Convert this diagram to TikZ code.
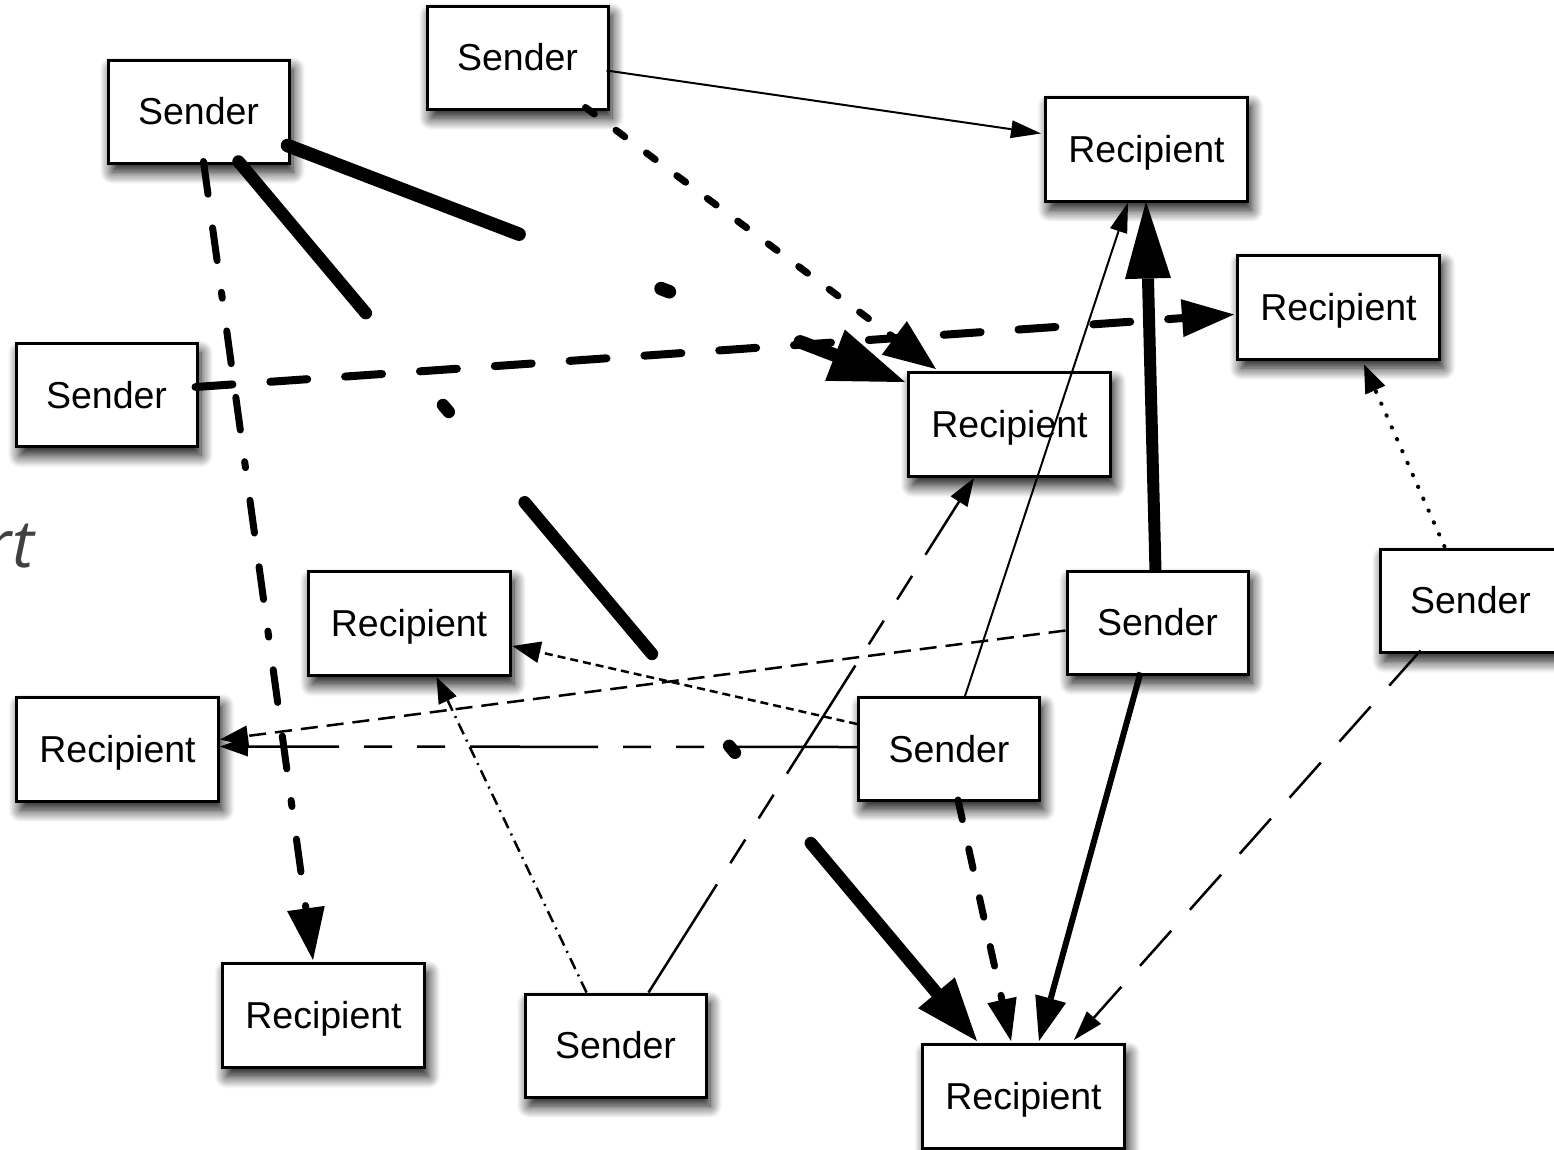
\documentclass[tikz,border=0pt]{standalone}
\usepackage{fontspec}
\setmainfont{Liberation Sans}
\newfontfamily\slidefont{Open Sans}
\usetikzlibrary{arrows.meta,calc,shadows.blur}

\begin{document}
\begin{tikzpicture}[x=1pt,y=-1pt,
  box/.style={draw, line width=3pt, fill=white, inner sep=0pt,
    font=\fontsize{37.5}{45}\selectfont, text height=26.8pt, text depth=0pt,
    blur shadow={shadow xshift=4pt, shadow yshift=-9pt,
      shadow blur radius=12pt, shadow opacity=95, shadow blur steps=12}},
  sender/.style={box, minimum width=181pt, minimum height=103pt},
  recipient/.style={box, minimum width=202pt, minimum height=104pt},
  thinline/.style={line width=2.5pt},
  tip/.style n args={2}{-{Triangle[length=#1pt,width=#2pt,line width=0pt]}},
  longshort/.style={dash pattern=on 128pt off 25pt on 28pt off 25pt on 28pt off 25pt},
]
\useasboundingbox (0,0) rectangle (1554,1149);

% partly visible heading fragment at the left margin
\node[font=\slidefont\itshape\fontsize{66}{70}\selectfont, text=black!75,
      anchor=base east, inner sep=0pt] (frag) at (34,567) {rt};

% boxes
\node[sender]    (sa) at (198.5,111.5)  {Sender};
\node[sender]    (sb) at (517.5,57.5)   {Sender};
\node[recipient] (rc) at (1146.5,149)   {Recipient};
\node[recipient] (rd) at (1338.5,307)   {Recipient};
\node[sender]    (se) at (106.5,395)    {Sender};
\node[recipient] (rf) at (1009.5,424.5) {Recipient};
\node[sender]    (sg) at (1157.5,622.5) {Sender};
\node[sender]    (sh) at (1470.5,600.5) {Sender};
\node[recipient] (ri) at (409,623.5)    {Recipient};
\node[recipient] (rj) at (117.5,749)    {Recipient};
\node[sender]    (sk) at (949,749)      {Sender};
\node[recipient] (rl) at (323.5,1015.5) {Recipient};
\node[sender]    (sm) at (615.5,1045.5) {Sender};
\node[recipient] (rn) at (1023.5,1096.5){Recipient};

% heavy dash-dot connectors
\draw[line width=13.5pt, line cap=round, tip={75}{55},
      dash pattern=on 248pt off 152pt on 9pt off 140pt]
  ($(sa.north west)+(181,87)$) -- ($(rf.north west)+(-2,11)$);
\draw[line width=12.5pt, line cap=round, tip={63}{48},
      dash pattern=on 198pt off 120pt on 9pt off 118pt]
  ($(sa.north west)+(132,103)$) -- ($(rn.north west)+(56,-2)$);

% medium dash-dot-dot
\draw[line width=7pt, line cap=round, tip={52}{38},
      dash pattern=on 33pt off 34pt on 33pt off 32pt on 6pt off 33pt]
  ($(sa.north west)+(97,103)$) -- ($(rl.north west)+(92,-2)$);

% thick dashed
\draw[line width=8pt, line cap=round, tip={52}{38},
      dash pattern=on 37pt off 38pt]
  ($(se.north west)+(181,45)$) -- ($(rd.north west)+(-2,61)$);

% thick dotted
\draw[line width=7pt, line cap=round, tip={52}{42},
      dash pattern=on 11pt off 27pt]
  ($(sb.north west)+(160,103)$) -- ($(rf.north west)+(29,-2)$);

% very thick solid
\draw[line width=12pt, tip={77}{46}]
  ($(sg.north west)+(90,2)$) -- ($(rc.north west)+(102,106)$);

% thick solid and dashed into the bottom recipient
\draw[line width=6pt, tip={44}{32}]
  ($(sg.north west)+(75,103)$) -- ($(rn.north west)+(118,-2)$);
\draw[line width=7pt, line cap=round, tip={42}{30},
      dash pattern=on 20pt off 30pt]
  ($(sk.north west)+(101,104)$) -- ($(rn.north west)+(90,-2)$);

% thin connectors
\draw[line width=2pt, tip={30}{18}]
  ($(sb.north west)+(181,66)$) -- ($(rc.north west)+(-3,38)$);
\draw[line width=2pt, tip={30}{18}]
  ($(sk.north west)+(108,0)$) -- ($(rc.north west)+(84,107)$);
\draw[line width=4pt, line cap=round, tip={28}{22},
      dash pattern=on 0.5pt off 12.5pt]
  ($(sh.north west)+(66,-1)$) -- ($(rd.north west)+(128,111)$);
\draw[thinline, tip={30}{19}, dash pattern=on 47pt off 28pt]
  ($(sh.north west)+(42,103)$) -- ($(rn.north west)+(153,-3)$);
\draw[thinline, tip={28}{22}, dash pattern=on 8pt off 5pt]
  ($(sk.north west)+(0,28)$) -- ($(ri.north west)+(206,76)$);
\draw[thinline, tip={28}{21}, dash pattern=on 17pt off 9pt]
  ($(sg.north west)+(0,61)$) -- ($(rj.north west)+(205,44)$);
\draw[thinline, tip={28}{20}, longshort]
  ($(sk.north west)+(0,51)$) -- ($(rj.north west)+(205,51)$);
\draw[thinline, tip={28}{20}, longshort]
  ($(sm.north west)+(125,0)$) -- ($(rf.north west)+(67,107)$);
\draw[thinline, tip={26}{20}, dash pattern=on 12pt off 6pt on 2pt off 6pt]
  ($(sm.north west)+(63,0)$) -- ($(ri.north west)+(130,107)$);
\end{tikzpicture}
\end{document}
